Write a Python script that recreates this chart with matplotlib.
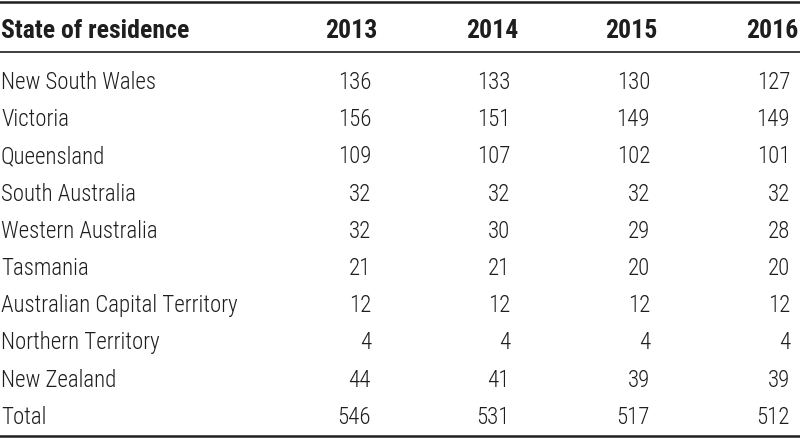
import matplotlib
matplotlib.use("Agg")
import matplotlib.pyplot as plt
from matplotlib import font_manager

header_label = "State of residence"
years = ["2013", "2014", "2015", "2016"]
states = [
    "New South Wales",
    "Victoria",
    "Queensland",
    "South Australia",
    "Western Australia",
    "Tasmania",
    "Australian Capital Territory",
    "Northern Territory",
    "New Zealand",
    "Total",
]
v2013 = [136, 156, 109, 32, 32, 21, 12, 4, 44, 546]
v2014 = [133, 151, 107, 32, 30, 21, 12, 4, 41, 531]
v2015 = [130, 149, 102, 32, 29, 20, 12, 4, 39, 517]
v2016 = [127, 149, 101, 32, 28, 20, 12, 4, 39, 512]

# pick a condensed face, closest to the Helvetica Condensed of the source
names = {f.name for f in font_manager.fontManager.ttflist}
family = "DejaVu Sans"
for cand in ["Roboto Condensed", "Archivo Narrow", "PT Sans Narrow",
             "IBM Plex Sans Condensed"]:
    if cand in names:
        family = cand
        break

fig = plt.figure(figsize=(8, 4.38), dpi=100)
ax = fig.add_axes([0, 0, 1, 1])
ax.set_xlim(0, 800)
ax.set_ylim(438, 0)
ax.axis("off")

fs_head = 18.5
fs_body = 16.5
ink = "#1e1e1e"
col_right = [378, 518, 658, 798]
num_right = [371, 510, 650, 790]

# header row, baseline positions in pixels
ax.text(1, 38, header_label, ha="left", va="baseline", fontsize=fs_head,
        fontweight="bold", family=family, color=ink)
for x, y in zip(col_right, years):
    ax.text(x, 38, y, ha="right", va="baseline", fontsize=fs_head,
            fontweight="bold", family=family, color=ink)

cols = [v2013, v2014, v2015, v2016]
y0, dy = 89, 37.2
for i, s in enumerate(states):
    y = y0 + i * dy
    ax.text(1, y, s, ha="left", va="baseline", fontsize=fs_body,
            fontweight="light", family=family, color=ink)
    for x, col in zip(num_right, cols):
        ax.text(x, y, str(col[i]), ha="right", va="baseline", fontsize=fs_body,
                fontweight="light", family=family, color=ink)

ax.plot([0, 800], [1.5, 1.5], color=ink, lw=1.8)
ax.plot([0, 800], [52, 52], color=ink, lw=1.2)
ax.plot([0, 800], [435.5, 435.5], color=ink, lw=1.8)

fig.savefig("out.png", dpi=100)
